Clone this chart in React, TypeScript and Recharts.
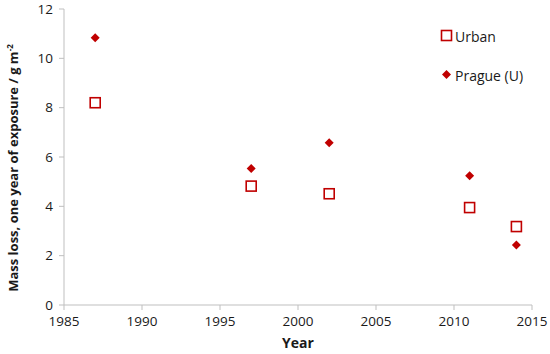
import { Scatter, ScatterChart, XAxis, YAxis } from "recharts";

const YEARS_URBAN = [1987, 1997, 2002, 2011, 2014];
const URBAN = [8.2, 4.82, 4.51, 3.95, 3.18];
const YEARS_PRAGUE = [1987, 1997, 2002, 2011, 2014];
const PRAGUE = [10.83, 5.53, 6.58, 5.24, 2.43];
const X_TICKS = [1985, 1990, 1995, 2000, 2005, 2010, 2015];
const Y_TICKS = [0, 2, 4, 6, 8, 10, 12];

const urbanData = YEARS_URBAN.map((x, i) => ({ x, y: URBAN[i] }));
const pragueData = YEARS_PRAGUE.map((x, i) => ({ x, y: PRAGUE[i] }));

const RED = "#C00000";
const FONT = "'Open Sans', sans-serif";
const AXIS_STROKE = "#bfbfbf";

const tickStyle = { fill: "#1a1a1a", fontSize: 13.5, fontFamily: FONT };

const Square = ({ cx, cy }: any) => (
  <rect x={cx - 5} y={cy - 5} width={10} height={10} fill="#fff" stroke={RED} strokeWidth={1.6} />
);

const Diamond = ({ cx, cy }: any) => (
  <path d={`M${cx},${cy - 4.5}L${cx + 4.5},${cy}L${cx},${cy + 4.5}L${cx - 4.5},${cy}Z`} fill={RED} />
);

function YLabel() {
  return (
    <text
      transform="translate(18,168) rotate(-90)"
      textAnchor="middle"
      fontFamily={FONT}
      fontWeight="bold"
      fontSize={13}
      fill="#1a1a1a"
    >
      Mass loss, one year of exposure / g m
      <tspan dy={-5} fontSize={8}>-2</tspan>
    </text>
  );
}

export default function App() {
  return (
    <div style={{ position: "absolute", left: 0, top: 0, background: "#fff" }}>
      <ScatterChart width={550} height={354} margin={{ top: 9, right: 18, bottom: 0, left: 0 }}>
        <XAxis
          type="number"
          dataKey="x"
          domain={[1985, 2015]}
          ticks={X_TICKS}
          tick={tickStyle}
          tickSize={5}
          tickMargin={6}
          height={49}
          stroke={AXIS_STROKE}
          label={{ value: "Year", position: "insideBottom", offset: 6, fill: "#1a1a1a", fontSize: 14, fontWeight: "bold", fontFamily: FONT }}
        />
        <XAxis xAxisId="top" orientation="top" type="number" domain={[1985, 2015]} tick={false} tickLine={false} height={0} stroke={AXIS_STROKE} />
        <YAxis
          type="number"
          dataKey="y"
          domain={[0, 12]}
          ticks={Y_TICKS}
          tick={tickStyle}
          tickSize={5}
          tickMargin={6}
          width={64}
          stroke={AXIS_STROKE}
          label={<YLabel />}
        />
        <YAxis yAxisId="right" orientation="right" type="number" domain={[0, 12]} tick={false} tickLine={false} width={0} stroke={AXIS_STROKE} />
        <Scatter name="Urban" data={urbanData} shape={<Square />} isAnimationActive={false} />
        <Scatter name="Prague (U)" data={pragueData} shape={<Diamond />} isAnimationActive={false} />
      </ScatterChart>
      <div style={{ position: "absolute", left: 440, top: 26, fontFamily: FONT, fontSize: 14, color: "#1a1a1a" }}>
        <div style={{ display: "flex", alignItems: "center", height: 20 }}>
          <svg width={14} height={14}><rect x={1.5} y={1.5} width={10} height={10} fill="#fff" stroke={RED} strokeWidth={1.6} /></svg>
          <span style={{ marginLeft: 1 }}>Urban</span>
        </div>
        <div style={{ display: "flex", alignItems: "center", height: 20, marginTop: 19 }}>
          <svg width={14} height={14}><path d="M6.5,2L11,6.5L6.5,11L2,6.5Z" fill={RED} /></svg>
          <span style={{ marginLeft: 1 }}>Prague (U)</span>
        </div>
      </div>
    </div>
  );
}
